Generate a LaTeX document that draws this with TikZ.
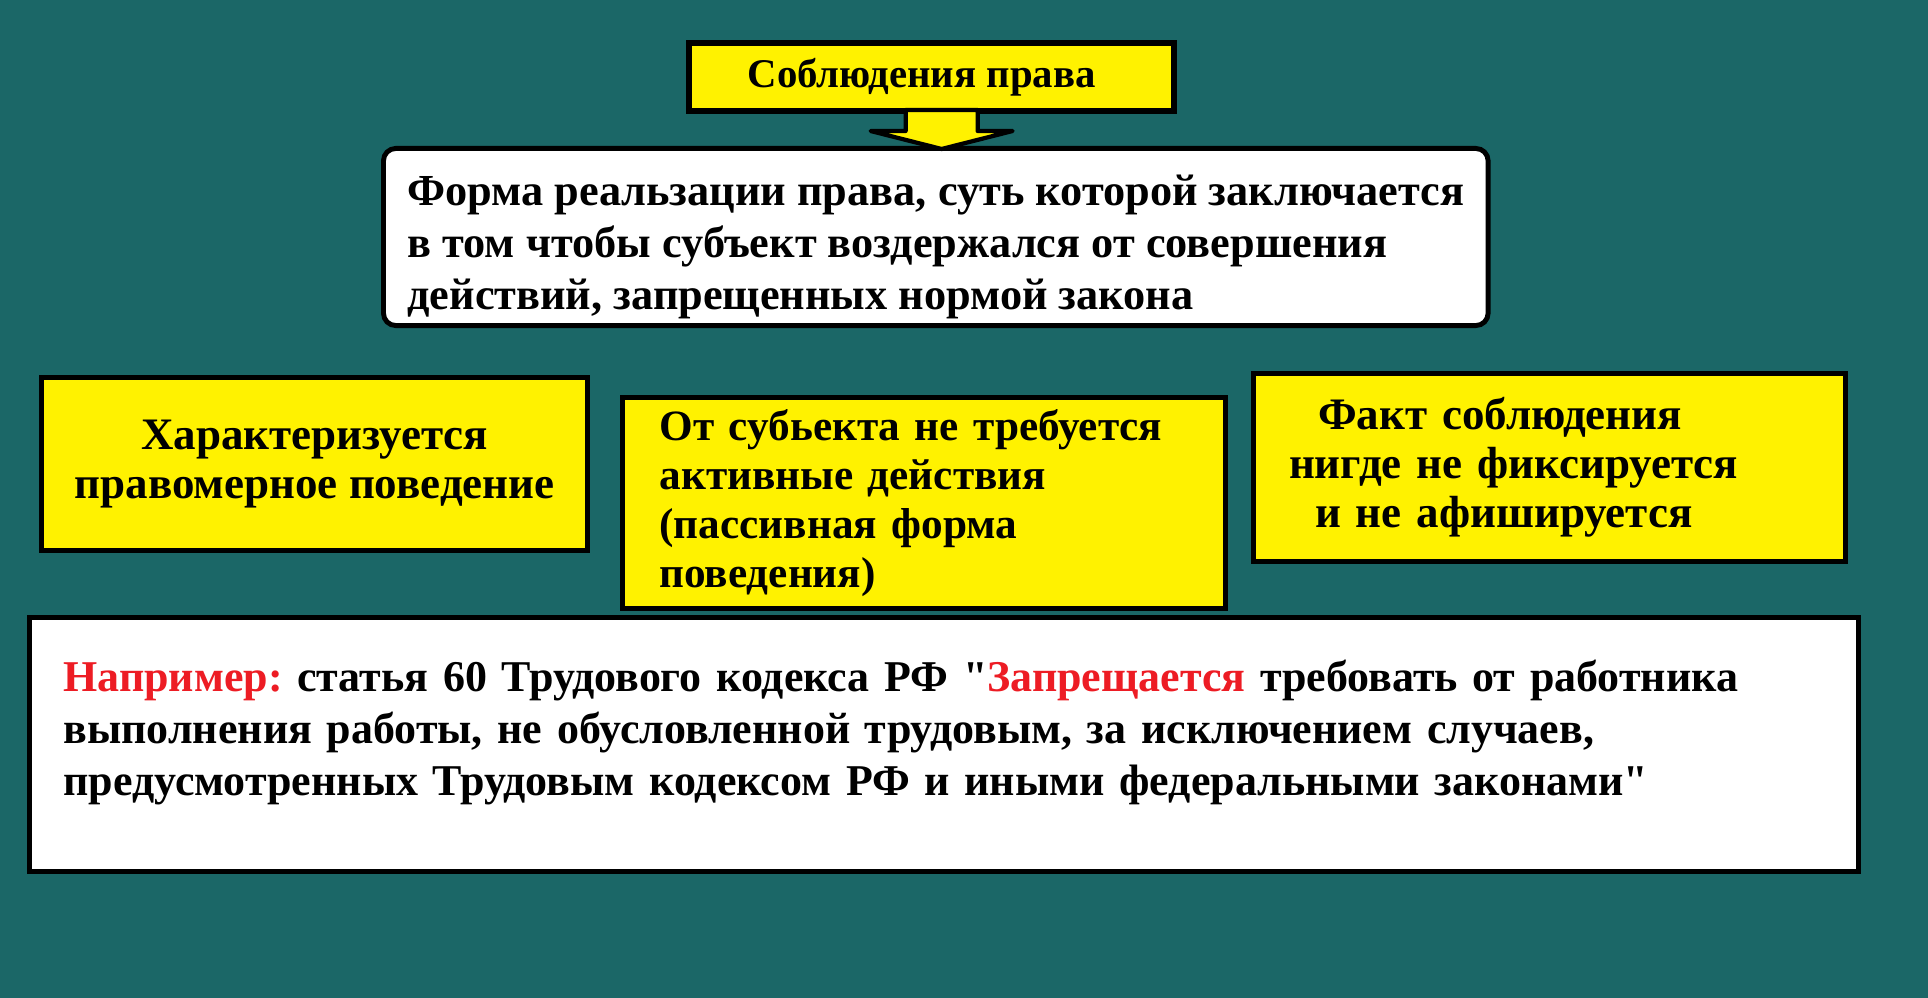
\documentclass[tikz,border=0pt]{standalone}
\usepackage{fontspec}
\setmainfont{Liberation Serif}[Ligatures=TeXOff]
\usetikzlibrary{positioning,calc}
\definecolor{sea}{HTML}{1B6767}
\definecolor{lemon}{HTML}{FFF200}
\definecolor{alert}{HTML}{ED1C24}
\frenchspacing
\tikzset{
  ybox/.style={rectangle,draw=black,fill=lemon,line width=1.4pt,anchor=north west,
    font=\bfseries\fontsize{12.8}{13.9}\selectfont},
  wbox/.style={rectangle,draw=black,fill=white,line width=1.4pt,anchor=north west,
    font=\bfseries\fontsize{12.6}{14.8}\selectfont},
  blockarrow/.style={draw=black,fill=lemon,line width=1.2pt,line join=round},
}

\begin{document}
\begin{tikzpicture}[x=0.01cm,y=-0.01cm]
  \fill[sea] (0,0) rectangle (1928,998);
  \useasboundingbox (0,0) rectangle (1928,998);
  \node[ybox,line width=1.7pt,minimum width=4.85cm,minimum height=0.68cm,
    font=\bfseries\fontsize{11.6}{13}\selectfont] (title) at (686,40)
    {Соблюдения права\hspace*{0.2cm}};
  \node[wbox,rounded corners=3.5pt,minimum width=11.04cm,minimum height=1.77cm,inner ysep=0pt,align=left] (def) at (381,146)
    {\rule{0pt}{14.4pt}Форма реальзации права, суть которой заключается\\
     в том чтобы субъект воздержался от совершения\\
     действий, запрещенных нормой закона};
  % arrow between title and definition
  \coordinate (stem) at ($(title.south)+(10,0)$);
  \draw[blockarrow] ($(stem)+(-36,-4)$) -- ++(0,21) -- ++(-35,0)
    -- ($(stem |- def.north)+(0,3)$) -- ($(stem)+(71,17)$) -- ++(-35,0) -- ++(0,-21) -- cycle;
  \node[ybox,minimum width=5.46cm,minimum height=1.73cm,align=center] (char) at (39,375)
    {Характеризуется\\ правомерное поведение};
  \node[ybox,font=\bfseries\fontsize{12.3}{13.9}\selectfont,minimum width=6.03cm,minimum height=2.11cm,
    text width=5.29cm,inner xsep=0.37cm,align=left] (pass) at (620,395)
    {От субьекта не требуется\\ активные действия\\ (пассивная форма\\ поведения)};
  \node[ybox,minimum width=5.92cm,minimum height=1.88cm,text width=5.21cm,inner xsep=0.355cm,align=left] (fact) at (1251,371)
    {\hspace*{0.29cm}Факт соблюдения\\ нигде не фиксируется\\ \hspace*{0.26cm}и не афишируется};
  \node[wbox,font=\bfseries\fontsize{12.5}{14.8}\selectfont,minimum width=18.28cm,minimum height=2.54cm,
    text width=17.6cm,inner xsep=0.34cm,align=left] (ex) at (27,615)
    {{\color{alert}Например:} статья 60 Трудового кодекса РФ "{\color{alert}Запрещается} требовать от работника\\
     выполнения работы, не обусловленной трудовым, за исключением случаев,\\
     предусмотренных Трудовым кодексом РФ и иными федеральными законами"\rule[-9.6pt]{0pt}{0pt}};
\end{tikzpicture}
\end{document}
